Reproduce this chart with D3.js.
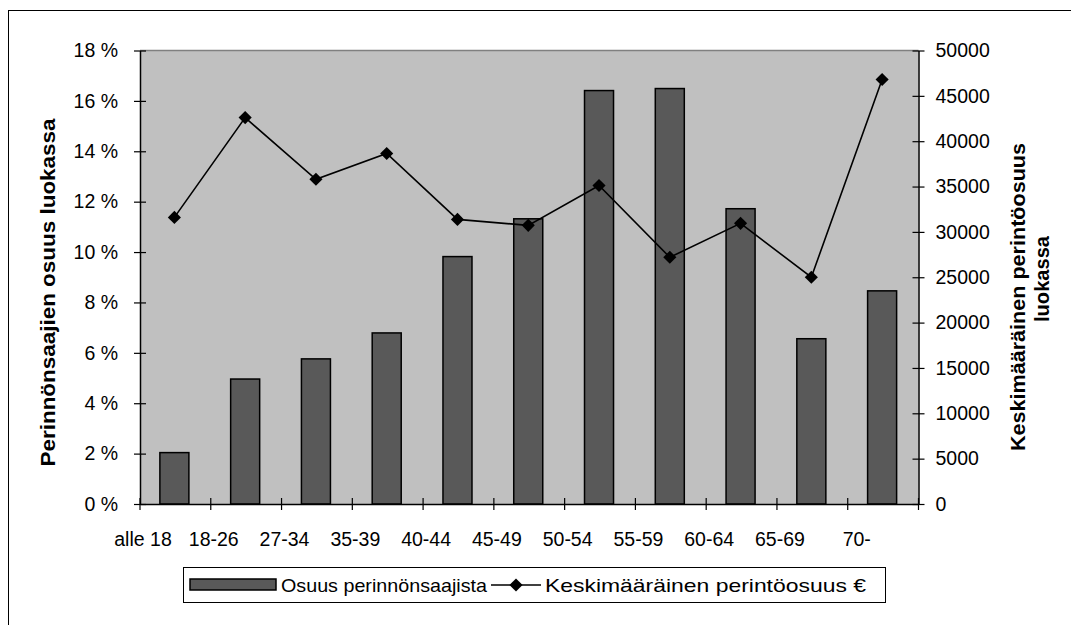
<!DOCTYPE html>
<html><head><meta charset="utf-8">
<script src="https://cdn.jsdelivr.net/npm/d3@7"></script>
<style>body{margin:0;background:#fff}svg{display:block;font-family:"Liberation Sans",Arial,sans-serif}</style>
</head><body><svg id="c" width="1071" height="625"></svg>
<script>
const categories = ["alle 18","18-26","27-34","35-39","40-44","45-49","50-54","55-59","60-64","65-69","70-"];
const shareValues = [2.04,4.96,5.76,6.79,9.82,11.32,16.41,16.49,11.72,6.56,8.46]; // %
const avgInheritance = [31600,42600,35800,38650,31380,30720,35120,27200,30940,25000,46800]; // €
const leftTicks = [0,2,4,6,8,10,12,14,16,18];
const rightTicks = [0,5000,10000,15000,20000,25000,30000,35000,40000,45000,50000];
const seriesNames = ["Osuus perinnönsaajista","Keskimääräinen perintöosuus €"];
const leftTitle = "Perinnönsaajien osuus luokassa";
const rightTitle = ["Keskimääräinen perintöosuus","luokassa"];

const svg = d3.select("#c");
const L=140, R=918.5, T=50.5, B=504;
const FONT="'Liberation Sans',Arial,sans-serif";

// outer frame
svg.append("rect").attr("x",8.5).attr("y",10.5).attr("width",1100).attr("height",700)
  .attr("fill","#fff").attr("stroke","#000").attr("stroke-width",1);

const x = d3.scaleBand().domain(categories).range([L,R]).paddingInner(0).paddingOuter(0);
const yL = d3.scaleLinear().domain([0,18]).range([B,T]);
const yR = d3.scaleLinear().domain([0,50000]).range([B,T]);

svg.append("rect").attr("x",L).attr("y",T).attr("width",R-L).attr("height",B-T).attr("fill","#c0c0c0");
svg.append("line").attr("x1",L).attr("x2",R).attr("y1",T).attr("y2",T).attr("stroke","#808080").attr("stroke-width",1.5);

const bw = x.bandwidth()*0.41;
svg.append("g").selectAll("rect").data(categories).join("rect")
  .attr("x",(d)=>x(d)+x.bandwidth()/2-bw/2-1)
  .attr("y",(d,i)=>yL(shareValues[i]))
  .attr("width",bw)
  .attr("height",(d,i)=>B-yL(shareValues[i]))
  .attr("fill","#595959").attr("stroke","#000").attr("stroke-width",1.5);

// axes
const fs = "19.5px";
const gl = svg.append("g").attr("transform",`translate(${L},0)`)
  .call(d3.axisLeft(yL).tickValues(leftTicks).tickFormat(d=>d+" %").tickSizeInner(6).tickSizeOuter(0).tickPadding(16));
const gr = svg.append("g").attr("transform",`translate(${R},0)`)
  .call(d3.axisRight(yR).tickValues(rightTicks).tickFormat(d=>d).tickSizeInner(6).tickSizeOuter(0).tickPadding(11));
const gb = svg.append("g").attr("transform",`translate(0,${B})`)
  .call(d3.axisBottom(x).tickSizeOuter(0).tickSize(0).tickFormat(""));
[gl,gr,gb].forEach(g=>{g.selectAll("path").attr("stroke","#000").attr("stroke-width",1.5);
  g.selectAll("line").attr("stroke","#000").attr("stroke-width",1.2);
  g.selectAll("text").attr("fill","#000").style("font-size",fs).style("font-family",FONT);});
gl.selectAll(".tick line").attr("x1",6).attr("x2",-6);
gr.selectAll(".tick line").attr("x1",-6).attr("x2",6);
// category boundary ticks
const bounds = categories.map(c=>x(c)).concat([R]);
svg.append("g").selectAll("line").data(bounds).join("line")
  .attr("x1",d=>d).attr("x2",d=>d).attr("y1",B-6).attr("y2",B+6)
  .attr("stroke","#000").attr("stroke-width",1.2);
// category labels (Excel places them near the left boundary)
svg.append("g").selectAll("text").data(categories).join("text")
  .attr("x",(d,i)=>x(d)+(i===categories.length-1?9:3))
  .attr("y",B+42).attr("text-anchor","middle").style("font-size",fs).text(d=>d);

// line
const cx = d=>x(d)+x.bandwidth()/2-1;
const line = d3.line().x((d,i)=>cx(categories[i])).y(d=>yR(d));
svg.append("path").datum(avgInheritance).attr("d",line).attr("fill","none").attr("stroke","#000").attr("stroke-width",1.6);
const diamond = d3.symbol().type(d3.symbolDiamond2).size(110);
svg.append("g").selectAll("path").data(avgInheritance).join("path")
  .attr("transform",(d,i)=>`translate(${cx(categories[i])},${yR(d)})`)
  .attr("d",diamond).attr("fill","#000");

// axis titles
svg.append("text").attr("transform",`translate(55,292.5) rotate(-90)`)
  .attr("text-anchor","middle").style("font-size","20px").style("font-weight","bold")
  .attr("textLength",348).attr("lengthAdjust","spacingAndGlyphs").text(leftTitle);
svg.append("text").attr("transform",`translate(1025,297) rotate(-90)`)
  .attr("text-anchor","middle").style("font-size","20px").style("font-weight","bold")
  .attr("textLength",308).attr("lengthAdjust","spacingAndGlyphs").text(rightTitle[0]);
svg.append("text").attr("transform",`translate(1049,279) rotate(-90)`)
  .attr("text-anchor","middle").style("font-size","20px").style("font-weight","bold")
  .attr("textLength",86).attr("lengthAdjust","spacingAndGlyphs").text(rightTitle[1]);

// legend
const lg = svg.append("g");
lg.append("rect").attr("x",183.5).attr("y",567.5).attr("width",702).attr("height",35).attr("fill","#fff").attr("stroke","#000");
lg.append("rect").attr("x",190).attr("y",579).attr("width",86).attr("height",11).attr("fill","#595959").attr("stroke","#000").attr("stroke-width",1.5);
lg.append("text").attr("x",281).attr("y",592).style("font-size","19px")
  .attr("textLength",206).attr("lengthAdjust","spacingAndGlyphs").text(seriesNames[0]);
lg.append("line").attr("x1",491).attr("x2",541).attr("y1",585).attr("y2",585).attr("stroke","#000").attr("stroke-width",1.6);
lg.append("path").attr("transform","translate(516,585)").attr("d",diamond).attr("fill","#000");
lg.append("text").attr("x",545).attr("y",592).style("font-size","19px")
  .attr("textLength",321).attr("lengthAdjust","spacingAndGlyphs").text(seriesNames[1]);
</script></body></html>
